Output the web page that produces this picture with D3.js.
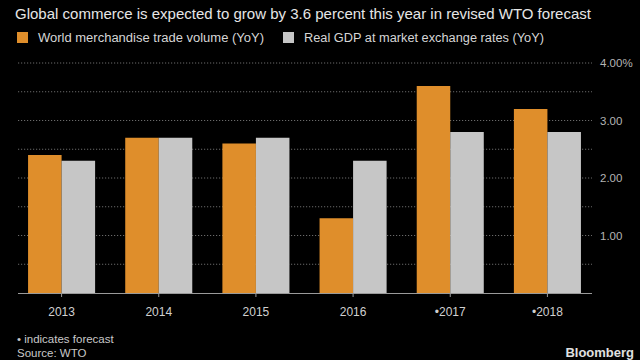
<!DOCTYPE html>
<html>
<head>
<meta charset="utf-8">
<script src="https://cdn.jsdelivr.net/npm/d3@7"></script>
<style>
  html, body { margin: 0; padding: 0; background: #000; }
  svg { display: block; }
</style>
</head>
<body>
<svg width="640" height="360"></svg>
<script>
// data
const years = ['2013', '2014', '2015', '2016', '\u20222017', '\u20222018'];
const tradeVolume = [2.4, 2.7, 2.6, 1.3, 3.6, 3.2];
const realGdp = [2.3, 2.7, 2.7, 2.3, 2.8, 2.8];
const seriesNames = ['World merchandise trade volume (YoY)', 'Real GDP at market exchange rates (YoY)'];
const yTicks = [1, 2, 3, 4];

const orange = '#df8e2b';
const grey = '#c6c6c6';
const font = '"Liberation Sans", Arial, sans-serif';

const svg = d3.select('svg');
svg.append('rect').attr('width', 640).attr('height', 360).attr('fill', '#000');

// plot area
const plotLeft = 18, plotRight = 592, plotTop = 63, plotBottom = 293;

const x = d3.scaleBand().domain(years).range([plotLeft - 5, plotRight + 4]).paddingInner(0.31).paddingOuter(0.155);
const xs = d3.scaleBand().domain([0, 1]).range([0, x.bandwidth()]);
const y = d3.scaleLinear().domain([0, 4]).range([plotBottom, plotTop]);

// title
svg.append('text')
  .attr('x', 15).attr('y', 19)
  .attr('fill', '#e6e6e6')
  .style('font-family', font).style('font-size', '15px')
  .attr('textLength', 576).attr('lengthAdjust', 'spacingAndGlyphs')
  .text('Global commerce is expected to grow by 3.6 percent this year in revised WTO forecast');

// legend
const legend = [{ name: seriesNames[0], color: orange, x: 17, w: 226 }, { name: seriesNames[1], color: grey, x: 283, w: 240 }];
legend.forEach(l => {
  svg.append('rect').attr('x', l.x).attr('y', 32).attr('width', 11).attr('height', 11).attr('fill', l.color);
  svg.append('text')
    .attr('x', l.x + 21).attr('y', 42)
    .attr('fill', '#d6d6d6')
    .style('font-family', font).style('font-size', '12.5px')
    .attr('textLength', l.w).attr('lengthAdjust', 'spacingAndGlyphs')
    .text(l.name);
});

// dotted gridlines every 0.5
const grid = d3.range(0.5, 4.01, 0.5);
svg.append('g').selectAll('line')
  .data(grid)
  .join('line')
  .attr('x1', plotLeft).attr('x2', plotRight)
  .attr('y1', d => y(d)).attr('y2', d => y(d))
  .attr('stroke', '#6a6a6a')
  .attr('stroke-width', 1)
  .attr('stroke-dasharray', '1.2,1.8');

// bars
const rows = years.map((yr, i) => ({ yr, vals: [tradeVolume[i], realGdp[i]] }));
const groups = svg.append('g').selectAll('g')
  .data(rows)
  .join('g')
  .attr('transform', d => `translate(${x(d.yr)},0)`);
groups.selectAll('rect')
  .data(d => d.vals.map((v, k) => ({ v, k })))
  .join('rect')
  .attr('x', d => xs(d.k))
  .attr('width', xs.bandwidth())
  .attr('y', d => y(d.v))
  .attr('height', d => y(0) - y(d.v))
  .attr('fill', d => d.k === 0 ? orange : grey);

// y axis labels on the right
const yAxis = svg.append('g').attr('transform', `translate(${plotRight},0)`)
  .call(d3.axisRight(y).tickValues(yTicks).tickSize(0).tickPadding(8)
    .tickFormat(d => d === 4 ? '4.00%' : d3.format('.2f')(d)));
yAxis.select('.domain').remove();
yAxis.selectAll('text')
  .attr('fill', '#b4b4b4')
  .style('font-family', font).style('font-size', '11.5px');

// x axis
const xAxis = svg.append('g').attr('transform', `translate(0,${plotBottom})`)
  .call(d3.axisBottom(x).tickSize(4).tickPadding(10));
xAxis.select('.domain').attr('d', `M${plotLeft},0.5H${plotRight}`).attr('stroke', '#9a9a9a');
xAxis.selectAll('.tick line').attr('stroke', '#9a9a9a');
xAxis.selectAll('text')
  .attr('fill', '#d0d0d0')
  .style('font-family', font).style('font-size', '12px');

// footer
svg.append('text')
  .attr('x', 17).attr('y', 343)
  .attr('fill', '#c8c8c8')
  .style('font-family', font).style('font-size', '11.5px')
  .text('\u2022 indicates forecast');
svg.append('text')
  .attr('x', 17).attr('y', 357)
  .attr('fill', '#c8c8c8')
  .style('font-family', font).style('font-size', '11.5px')
  .text('Source: WTO');
svg.append('text')
  .attr('x', 634).attr('y', 357)
  .attr('text-anchor', 'end')
  .attr('fill', '#e0e0e0')
  .style('font-family', font).style('font-size', '13px').style('font-weight', 'bold')
  .text('Bloomberg');
</script>
</body>
</html>
